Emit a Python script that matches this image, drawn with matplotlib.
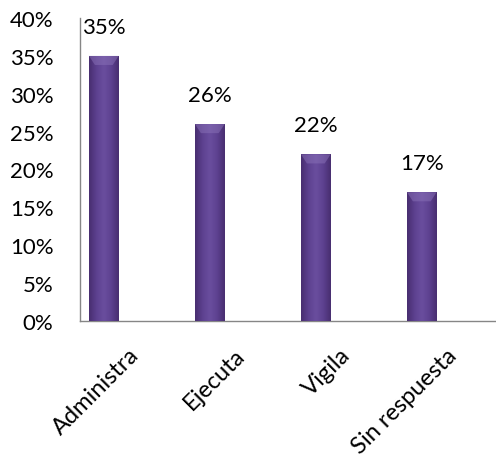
import matplotlib
matplotlib.use("Agg")
import matplotlib.pyplot as plt
import matplotlib.transforms as mtransforms
from matplotlib.colors import LinearSegmentedColormap
import numpy as np

categories = ["Administra", "Ejecuta", "Vigila", "Sin respuesta"]
values = [0.35, 0.26, 0.22, 0.17]
labels = ["35%", "26%", "22%", "17%"]
yticks = [0, 0.05, 0.10, 0.15, 0.20, 0.25, 0.30, 0.35, 0.40]
ytick_labels = ["0%", "5%", "10%", "15%", "20%", "25%", "30%", "35%", "40%"]

plt.rcParams["font.family"] = ["Lato", "DejaVu Sans"]
FS = 16

fig = plt.figure(figsize=(4.96, 4.60), dpi=100)
ax = fig.add_axes([0.161, 0.30, 0.839, 0.6587])

x = np.arange(len(categories))
width = 0.28
bars = ax.bar(x, values, width=width, color="#5c3f8c", zorder=2)

# horizontal shading across each bar, darker at the edges
shade = LinearSegmentedColormap.from_list(
    "shade", ["#482e70", "#5d4190", "#6a4e9e", "#5d4190", "#482e70"])
grad = np.linspace(0, 1, 64).reshape(1, -1)
for b in bars:
    x0, w, h = b.get_x(), b.get_width(), b.get_height()
    im = ax.imshow(grad, cmap=shade, extent=[x0, x0 + w, 0, h],
                   aspect="auto", zorder=3, interpolation="bicubic")
    im.set_clip_path(b)
    # lighter bevel at the top of the bar
    bev = 0.012
    ax.fill([x0, x0 + w, x0 + w * 0.8, x0 + w * 0.2],
            [h, h, h - bev, h - bev], color="#8a72b8", alpha=0.5, zorder=4,
            lw=0)

for xi, v, lab in zip(x, values, labels):
    ax.annotate(lab, (xi, v), xytext=(0, 29), textcoords="offset pixels",
                ha="center", va="center", fontsize=FS, color="black")

ax.set_xlim(-0.226, 3.70)
ax.set_ylim(0, 0.40)
ax.set_yticks(yticks)
ax.set_yticklabels(ytick_labels, fontsize=FS)
ax.tick_params(axis="y", length=0, pad=19)
ax.set_xticks([])

# rotated category names hanging below the axis
for xi, name in zip(x, categories):
    off = mtransforms.ScaledTranslation(24 / 100, -23 / 100, fig.dpi_scale_trans)
    tr = mtransforms.blended_transform_factory(ax.transData, ax.transAxes) + off
    ax.text(xi, 0, name, transform=tr, rotation=45, ha="right", va="top",
            rotation_mode="anchor", fontsize=17)

for side in ["top", "right"]:
    ax.spines[side].set_visible(False)
for side in ["left", "bottom"]:
    ax.spines[side].set_color("#868686")
    ax.spines[side].set_linewidth(1.0)

fig.savefig("out.png", dpi=100)
